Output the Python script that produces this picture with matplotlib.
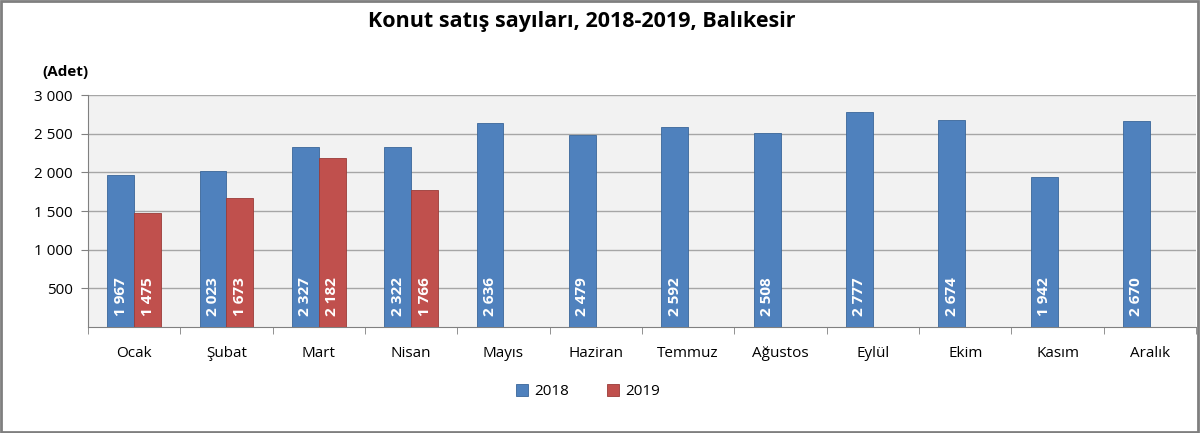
import numpy as np
import matplotlib as mpl
mpl.use("Agg")
import matplotlib.pyplot as plt
from matplotlib.patches import Rectangle

months = ["Ocak", "Şubat", "Mart", "Nisan", "Mayıs", "Haziran", "Temmuz",
          "Ağustos", "Eylül", "Ekim", "Kasım", "Aralık"]
sales_2018 = [1967, 2023, 2327, 2322, 2636, 2479, 2592, 2508, 2777, 2674, 1942, 2670]
sales_2019 = [1475, 1673, 2182, 1766]
y_ticks = [500, 1000, 1500, 2000, 2500, 3000]


def fmt(v):
    # space as thousands separator
    return f"{int(v):,}".replace(",", " ")


plt.rcParams['font.family'] = ['Open Sans', 'DejaVu Sans']

fig = plt.figure(figsize=(12, 4.33), dpi=100)
ax = fig.add_axes([0.0733, 0.2448, 0.9234, 0.5358])
ax.set_facecolor("#f2f2f2")

x = np.arange(len(months))
w = 0.29
blue = "#4f81bd"
red = "#c0504d"
b1 = ax.bar(x - w / 2, sales_2018, w, color=blue, edgecolor="#3a6699", linewidth=0.6,
            label="2018", zorder=3)
b2 = ax.bar(x[:len(sales_2019)] + w / 2, sales_2019, w, color=red, edgecolor="#9a3b38",
            linewidth=0.6, label="2019", zorder=3)

for bars, vals in ((b1, sales_2018), (b2, sales_2019)):
    for rect, v in zip(bars, vals):
        ax.text(rect.get_x() + rect.get_width() / 2, 140, fmt(v), rotation=90,
                ha="center", va="bottom", color="white", fontsize=11,
                fontweight="bold", zorder=4)

ax.set_xlim(-0.5, len(months) - 0.5)
ax.set_ylim(0, 3000)
ax.set_yticks(y_ticks)
ax.set_yticklabels([fmt(t) for t in y_ticks], fontsize=11)
ax.yaxis.grid(True, color="#a6a6a6", linewidth=1.0, zorder=0)
ax.set_axisbelow(True)

ax.set_xticks(x)
ax.set_xticklabels(months, fontsize=11)
ax.set_xticks(np.arange(-0.5, len(months)), minor=True)
ax.tick_params(axis="x", which="major", length=0, pad=14)
ax.tick_params(axis="x", which="minor", length=5, color="#808080")
ax.tick_params(axis="y", length=5, color="#808080", pad=6)

for s in ("top", "right"):
    ax.spines[s].set_visible(False)
ax.spines["left"].set_color("#808080")
ax.spines["bottom"].set_color("#808080")

fig.text(0.485, 0.95, "Konut satış sayıları, 2018-2019, Balıkesir", ha="center",
         va="center", fontsize=15.5, fontweight="bold")
fig.text(0.035, 0.833, "(Adet)", ha="left", va="center", fontsize=11, fontweight="bold")

ax.legend(loc="center", ncol=2, frameon=False, fontsize=11, handlelength=0.8,
          handleheight=0.8, columnspacing=2.5, handletextpad=0.4)
leg = ax.get_legend()
leg.set_bbox_to_anchor((0.49, 0.095), transform=fig.transFigure)

fig.patches.append(Rectangle((0.001, 0.002), 0.997, 0.995, transform=fig.transFigure,
                             fill=False, edgecolor="#7f7f7f", linewidth=2))

fig.savefig("out.png", dpi=100)
plt.close(fig)
